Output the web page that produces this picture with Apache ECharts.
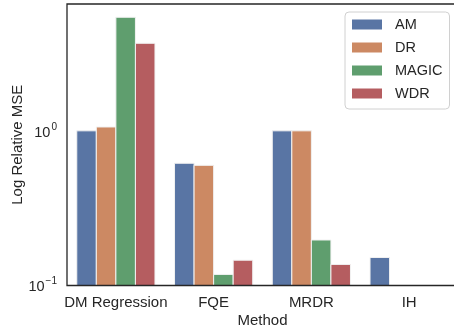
<!DOCTYPE html>
<html><head><meta charset="utf-8">
<script src="https://cdn.jsdelivr.net/npm/echarts@6/dist/echarts.min.js"></script>
<style>html,body{margin:0;padding:0;background:#fff}#c{width:454px;height:334px}</style>
</head><body><div id="c"></div>
<script>
const methods = ['DM Regression', 'FQE', 'MRDR', 'IH'];
const seriesNames = ['AM', 'DR', 'MAGIC', 'WDR'];
const AM = [1.01, 0.622, 1.01, 0.152];
const DR = [1.07, 0.603, 1.01, null];
const MAGIC = [5.52, 0.118, 0.1975, null];
const WDR = [3.74, 0.146, 0.137, null];
const colors = ['#5975A4', '#CC8963', '#5F9E6E', '#B55D60'];
const values = [AM, DR, MAGIC, WDR];
const yMin = 0.1, yMax = 6.73;
const font = '"Liberation Sans", Arial, sans-serif';
const txt = '#262626';

function makeRender(i) {
  return function (params, api) {
    const cat = api.value(0), v = api.value(1);
    if (v == null || isNaN(v)) return null;
    const band = api.size([1, 0])[0];
    const w = band * 0.8 / seriesNames.length;
    const base = api.coord([cat, yMin]);
    const top = api.coord([cat, v]);
    const x = base[0] - band * 0.4 + i * w;
    return {
      type: 'rect',
      shape: {x: x, y: top[1], width: w, height: base[1] - top[1]},
      style: {fill: colors[i], stroke: '#f2f2f2', lineWidth: 1}
    };
  };
}

const chart = echarts.init(document.getElementById('c'), null, {renderer: 'canvas'});
chart.setOption({
  animation: false,
  textStyle: {fontFamily: font, color: txt},
  grid: {left: 67, top: 4, bottom: 48.5, width: 391, containLabel: false, outerBoundsMode: 'none',
    show: true, borderColor: '#262626', borderWidth: 1.3, backgroundColor: 'transparent', z: 10},
  legend: {
    orient: 'vertical', left: 345, top: 12, padding: [5, 7, 8, 7],
    itemWidth: 30, itemHeight: 10, itemGap: 8, icon: 'rect',
    borderColor: '#d0d0d0', borderWidth: 1, borderRadius: 4, backgroundColor: '#fff',
    textStyle: {fontSize: 14.5, color: txt, fontFamily: font, lineHeight: 14, padding: [0, 0, 0, 8]},
    data: seriesNames
  },
  xAxis: {
    type: 'category', data: methods,
    axisLine: {show: false}, axisTick: {show: false},
    axisLabel: {fontSize: 15, color: txt, margin: 10, fontFamily: font, interval: 0},
    name: 'Method', nameLocation: 'middle', nameGap: 28, nameMoveOverlap: false,
    nameTextStyle: {fontSize: 15, color: txt, fontFamily: font}
  },
  yAxis: {
    type: 'log', logBase: 10, min: yMin, max: yMax,
    axisLine: {show: false}, axisTick: {show: false}, splitLine: {show: false},
    axisLabel: {
      margin: 10, color: txt, fontFamily: font, showMaxLabel: false,
      formatter: function (v) {
        const l = Math.log10(v);
        const e = Math.round(l);
        if (Math.abs(l - e) > 1e-6) return '';
        return '{b|10}{s|' + (e < 0 ? '\u2212' + (-e) : e) + '}';
      },
      rich: {
        b: {fontSize: 14.5, color: txt, fontFamily: font, lineHeight: 18, verticalAlign: 'bottom'},
        s: {fontSize: 10, color: txt, fontFamily: font, lineHeight: 18, verticalAlign: 'top', padding: [0, 0, 6, 1]}
      }
    },
    name: 'Log Relative MSE', nameLocation: 'middle', nameGap: 42, nameMoveOverlap: false,
    nameTextStyle: {fontSize: 15, color: txt, fontFamily: font}
  },
  series: seriesNames.map((n, i) => ({
    name: n, type: 'custom', clip: true,
    itemStyle: {color: colors[i]},
    encode: {x: 0, y: 1},
    data: methods.map((m, j) => [j, values[i][j]]).filter(d => d[1] != null),
    renderItem: makeRender(i)
  }))
});
</script></body></html>
